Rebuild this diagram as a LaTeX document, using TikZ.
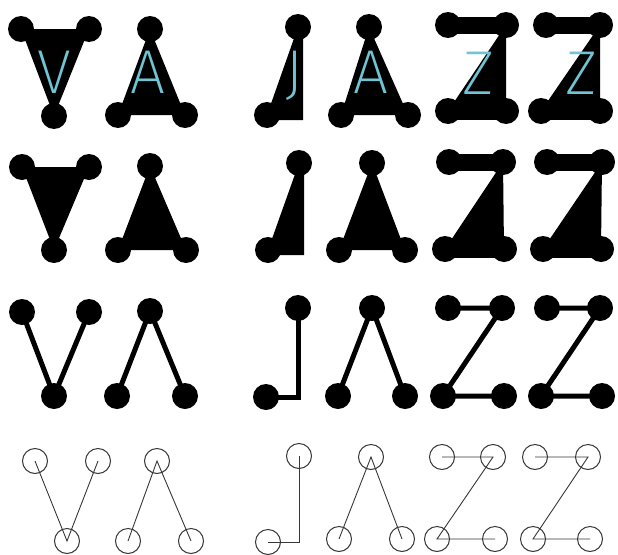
\documentclass[tikz,border=0pt]{standalone}
\usepackage{fontspec}
\newfontfamily\thinfont{Fira Sans ExtraLight}
\definecolor{lettercyan}{RGB}{112,196,212}
\definecolor{ringgray}{RGB}{55,55,55}
\tikzset{
  dot/.style={circle,fill=black,draw=none,minimum size=26pt,inner sep=0pt},
  ring/.style={circle,draw=ringgray,line width=1pt,fill=none,minimum size=25pt,inner sep=0pt},
  solid/.style={fill=black,draw=none},
  bar/.style={line width=17pt,draw=black},
  wire/.style={line width=5pt,draw=black},
  thinwire/.style={line width=0.9pt,draw=ringgray},
  letter/.style={anchor=base,inner sep=0pt,text=lettercyan,font=\thinfont\fontsize{62}{62}\selectfont}
}
\begin{document}
\begin{tikzpicture}[x=1pt,y=-1pt]
\useasboundingbox (0,0) rectangle (618,554);
% ================= ROW 1 =================
\coordinate (r1va) at (21,29); \coordinate (r1vb) at (89,29); \coordinate (r1vc) at (54,116);
\coordinate (r1aa) at (150,29); \coordinate (r1ab) at (118,115); \coordinate (r1ac) at (185,115);
\coordinate (r1ja) at (298,27); \coordinate (r1jb) at (267,115); \coordinate (r1jc) at (303,120); \coordinate (r1jd) at (303,27); \coordinate (r1je) at (267,120);
\coordinate (r1ba) at (369,27); \coordinate (r1bb) at (341,115); \coordinate (r1bc) at (408,115);
\coordinate (r1za) at (448,25); \coordinate (r1zb) at (506,25); \coordinate (r1zc) at (448,111); \coordinate (r1zd) at (506,111);
\coordinate (r1ya) at (546,25); \coordinate (r1yb) at (600,25); \coordinate (r1yc) at (541,111); \coordinate (r1yd) at (600,111);
\fill[solid] (r1va) -- (r1vb) -- (r1vc) -- cycle;
\fill[solid] (r1aa) -- (r1ab) -- (r1ac) -- cycle;
\fill[solid] (r1ja) -- (r1jd) -- (r1jc) -- (r1je) -- (r1jb) -- cycle;
\fill[solid] (r1ba) -- (r1bb) -- (r1bc) -- cycle;
\fill[solid] (r1zb) -- (r1zd) -- (r1zc) -- cycle;
\draw[bar] (r1za) -- (r1zb); \draw[bar] (r1zc) -- (r1zd);
\fill[solid] (r1yb) -- (r1yd) -- (r1yc) -- cycle;
\draw[bar] (r1ya) -- (r1yb); \draw[bar] (r1yc) -- (r1yd);
\foreach \p in {r1va,r1vb,r1vc,r1aa,r1ab,r1ac,r1ja,r1jb,r1ba,r1bb,r1bc,r1za,r1zb,r1zc,r1zd,r1ya,r1yb,r1yc,r1yd}
  \node[dot] (d\p) at (\p) {};
\node[letter] (t1) at (54.5,93) {V};
\node[letter] (t2) at (147.5,93) {A};
\node[letter] (t3) at (294,93) {J};
\node[letter] (t4) at (371,93) {A};
\node[letter] (t5) at (478.5,94) {Z};
\node[letter] (t6) at (581.5,94) {Z};
% ================= ROW 2 =================
\coordinate (r2va) at (22,167); \coordinate (r2vb) at (89,167); \coordinate (r2vc) at (54,250);
\coordinate (r2aa) at (150,166); \coordinate (r2ab) at (118,250); \coordinate (r2ac) at (186,250);
\coordinate (r2ja) at (299,163); \coordinate (r2jb) at (268,250); \coordinate (r2jc) at (304,255); \coordinate (r2jd) at (304,163); \coordinate (r2je) at (268,255);
\coordinate (r2ba) at (372,163); \coordinate (r2bb) at (339,250); \coordinate (r2bc) at (405,250);
\coordinate (r2za) at (449,162); \coordinate (r2zb) at (503,162); \coordinate (r2zc) at (445,249); \coordinate (r2zd) at (504,249);
\coordinate (r2ya) at (547,162); \coordinate (r2yb) at (602,162); \coordinate (r2yc) at (543,249); \coordinate (r2yd) at (601,249);
\fill[solid] (r2va) -- (r2vb) -- (r2vc) -- cycle;
\fill[solid] (r2aa) -- (r2ab) -- (r2ac) -- cycle;
\fill[solid] (r2ja) -- (r2jd) -- (r2jc) -- (r2je) -- (r2jb) -- cycle;
\fill[solid] (r2ba) -- (r2bb) -- (r2bc) -- cycle;
\fill[solid] (r2zb) -- (r2zd) -- (r2zc) -- cycle;
\draw[bar] (r2za) -- (r2zb); \draw[bar] (r2zc) -- (r2zd);
\fill[solid] (r2yb) -- (r2yd) -- (r2yc) -- cycle;
\draw[bar] (r2ya) -- (r2yb); \draw[bar] (r2yc) -- (r2yd);
\foreach \p in {r2va,r2vb,r2vc,r2aa,r2ab,r2ac,r2ja,r2jb,r2ba,r2bb,r2bc,r2za,r2zb,r2zc,r2zd,r2ya,r2yb,r2yc,r2yd}
  \node[dot] (d\p) at (\p) {};
% ================= ROW 3 =================
\node[dot] (r3va) at (22,312) {}; \node[dot] (r3vb) at (89,312) {}; \node[dot] (r3vc) at (54,396) {};
\node[dot] (r3aa) at (150,311) {}; \node[dot] (r3ab) at (117,396) {}; \node[dot] (r3ac) at (185,396) {};
\node[dot] (r3ja) at (298,308) {}; \node[dot] (r3jb) at (266,397) {}; \coordinate (r3jc) at (298,397);
\node[dot] (r3ba) at (372,308) {}; \node[dot] (r3bb) at (338,396) {}; \node[dot] (r3bc) at (405,396) {};
\node[dot] (r3za) at (448,308) {}; \node[dot] (r3zb) at (502,308) {}; \node[dot] (r3zc) at (443,396) {}; \node[dot] (r3zd) at (504,396) {};
\node[dot] (r3ya) at (547,308) {}; \node[dot] (r3yb) at (600,308) {}; \node[dot] (r3yc) at (541,396) {}; \node[dot] (r3yd) at (602,396) {};
\draw[wire] (r3va.center) -- (r3vc.center) -- (r3vb.center);
\draw[wire] (r3ab.center) -- (r3aa.center) -- (r3ac.center);
\draw[wire,line join=miter] (r3ja.center) -- (r3jc) -- (r3jb.center);
\draw[wire] (r3bb.center) -- (r3ba.center) -- (r3bc.center);
\draw[wire] (r3za.center) -- (r3zb.center) -- (r3zc.center) -- (r3zd.center);
\draw[wire] (r3ya.center) -- (r3yb.center) -- (r3yc.center) -- (r3yd.center);
% ================= ROW 4 =================
\node[ring] (r4va) at (35,461) {}; \node[ring] (r4vb) at (98,461) {}; \node[ring] (r4vc) at (67,541) {};
\node[ring] (r4aa) at (157,461) {}; \node[ring] (r4ab) at (128,541) {}; \node[ring] (r4ac) at (191,541) {};
\node[ring] (r4ja) at (299,456) {}; \node[ring] (r4jb) at (268,542) {}; \coordinate (r4jc) at (299,542);
\node[ring] (r4ba) at (371,457) {}; \node[ring] (r4bb) at (339,539) {}; \node[ring] (r4bc) at (402,539) {};
\node[ring] (r4za) at (442,457) {}; \node[ring] (r4zb) at (493,457) {}; \node[ring] (r4zc) at (437,539) {}; \node[ring] (r4zd) at (495,539) {};
\node[ring] (r4ya) at (535,457) {}; \node[ring] (r4yb) at (588,457) {}; \node[ring] (r4yc) at (533,539) {}; \node[ring] (r4yd) at (590,539) {};
\draw[thinwire] (r4va.center) -- (r4vc.center) -- (r4vb.center);
\draw[thinwire] (r4ab.center) -- (r4aa.center) -- (r4ac.center);
\draw[thinwire] (r4ja.center) -- (r4jc) -- (r4jb.center);
\draw[thinwire] (r4bb.center) -- (r4ba.center) -- (r4bc.center);
\draw[thinwire] (r4za.center) -- (r4zb.center) -- (r4zc.center) -- (r4zd.center);
\draw[thinwire] (r4ya.center) -- (r4yb.center) -- (r4yc.center) -- (r4yd.center);
\end{tikzpicture}
\end{document}
